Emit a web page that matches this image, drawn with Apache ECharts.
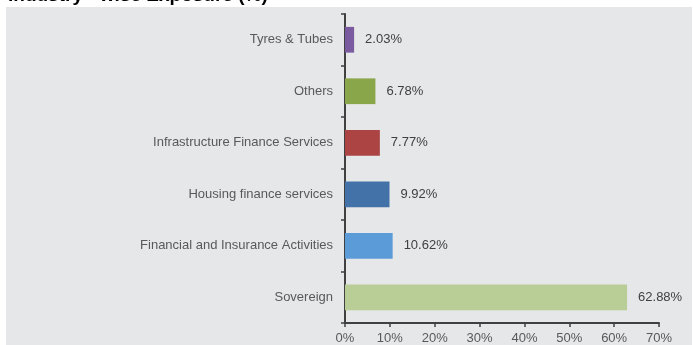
<!DOCTYPE html>
<html>
<head>
<meta charset="utf-8">
<style>
  html, body { margin: 0; padding: 0; background: #ffffff; }
  #chart { width: 693px; height: 345px; }
</style>
<script src="https://cdn.jsdelivr.net/npm/echarts@6/dist/echarts.min.js"></script>
</head>
<body>
<div id="chart"></div>
<script>
// Industry-wise exposure, listed bottom-to-top as drawn on the category axis
const categories = [
  'Sovereign',
  'Financial and Insurance Activities',
  'Housing finance services',
  'Infrastructure Finance Services',
  'Others',
  'Tyres & Tubes'
];
const exposure = [62.88, 10.62, 9.92, 7.77, 6.78, 2.03];
const barColors = ['#b8ce96', '#5b9bd8', '#4372a8', '#ab4443', '#8aa64b', '#7a5ba0'];
const xTicks = [0, 10, 20, 30, 40, 50, 60, 70];

const chart = echarts.init(document.getElementById('chart'));

chart.setOption({
  animation: false,
  backgroundColor: '#ffffff',
  title: {
    text: 'Industry - wise Exposure (%)',
    left: 8,
    top: -14,
    padding: 0,
    textStyle: {
      fontFamily: 'Liberation Sans, Arial, sans-serif',
      fontWeight: 'bold',
      fontSize: 19,
      color: '#000000'
    }
  },
  graphic: [{
    type: 'rect',
    left: 6,
    top: 7,
    z: -10,
    shape: { width: 686, height: 338 },
    style: { fill: '#e6e7e9' }
  }],
  grid: { left: 345, right: 34, top: 14, bottom: 22, containLabel: false },
  xAxis: {
    type: 'value',
    min: xTicks[0],
    max: xTicks[xTicks.length - 1],
    interval: 10,
    axisLine: { show: true, lineStyle: { color: '#404040', width: 2 } },
    axisTick: { show: true, length: 4, lineStyle: { color: '#404040', width: 1.5 } },
    splitLine: { show: false },
    axisLabel: {
      formatter: v => v + '%',
      color: '#595959',
      fontFamily: 'Liberation Sans, Arial, sans-serif',
      fontSize: 13,
      margin: 9
    }
  },
  yAxis: {
    type: 'category',
    data: categories,
    axisLine: { show: true, lineStyle: { color: '#404040', width: 2 } },
    axisTick: { show: true, length: 4, lineStyle: { color: '#404040', width: 1.5 } },
    axisLabel: {
      color: '#595959',
      fontFamily: 'Liberation Sans, Arial, sans-serif',
      fontSize: 13,
      margin: 12,
      padding: [2, 0, 0, 0]
    }
  },
  series: [{
    type: 'bar',
    data: exposure.map((v, i) => ({ value: v, itemStyle: { color: barColors[i] } })),
    barWidth: '50%',
    label: {
      show: true,
      position: 'right',
      distance: 11,
      padding: [2, 0, 0, 0],
      formatter: p => p.value.toFixed(2) + '%',
      color: '#404040',
      fontFamily: 'Liberation Sans, Arial, sans-serif',
      fontSize: 13
    }
  }]
});
</script>
</body>
</html>
